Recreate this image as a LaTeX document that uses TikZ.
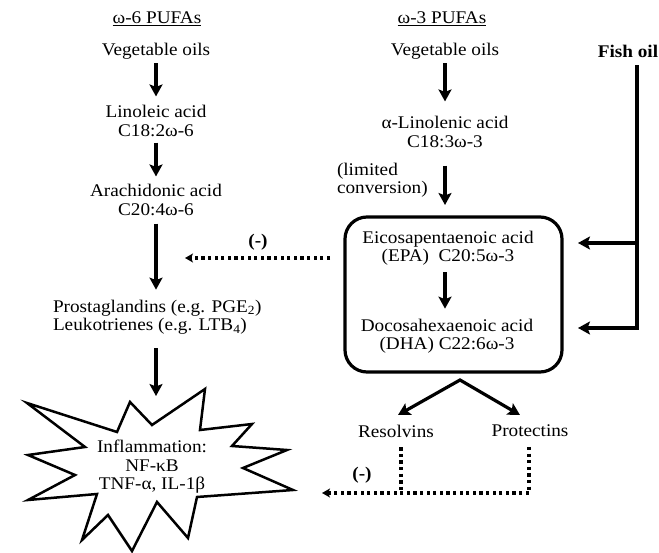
\documentclass[tikz,border=0pt]{standalone}
\usepackage{fontspec}
\setmainfont[FakeStretch=1.08]{Liberation Serif}
\usetikzlibrary{arrows.meta,calc}
\begin{document}
\begin{tikzpicture}[x=1pt,y=-1pt,
  txt/.style={inner sep=0pt, outer sep=0pt, font=\fontsize{17.8}{18.5}\selectfont, align=center},
  arr/.style={line width=3.2pt, -{Stealth[length=12pt,width=13pt,inset=2.5pt]}},
  arrboth/.style={line width=3.2pt, {Stealth[length=12pt,width=13pt,inset=2.5pt]}-{Stealth[length=12pt,width=13pt,inset=2.5pt]}, line join=miter},
  dotline/.style={line width=3.4pt, dash pattern=on 3.3pt off 3.3pt},
  dotarr/.style={dotline, -{Stealth[length=8pt,width=9pt,inset=2pt]}},
  starline/.style={line width=2.5pt, line join=miter, miter limit=20, fill=white},
  boxstyle/.style={draw, line width=3.2pt, rounded corners=22pt, minimum width=217pt, minimum height=155pt, outer sep=0pt, inner sep=0pt},
  neg/.style={txt, font=\fontsize{17.8}{18.5}\selectfont\bfseries}
]
\useasboundingbox (0,0) rectangle (659,553);

% left column
\node[txt] (t6) at (157,19) {\underline{ω-6 PUFAs}};
\node[txt] (v6) at (156,51) {Vegetable oils};
\node[txt] (la) at (156,121) {Linoleic acid\\C18:2ω-6};
\node[txt] (aa) at (156,200) {Arachidonic acid\\C20:4ω-6};
\node[txt, align=left, anchor=west] (pg) at (53,317) {Prostaglandins (e.g. PGE\textsubscript{2})\\Leukotrienes (e.g. LTB\textsubscript{4})};

% star
\draw[starline] (27,403) -- (117,432) -- (130,402) -- (152,425) -- (205,389) -- (200,430)
  -- (252,424) -- (232,446) -- (287,450) -- (243,468) -- (293,490) -- (197,497)
  -- (188,538) -- (157,502) -- (132,551) -- (108,515) -- (82,540) -- (97,494)
  -- (28,500) -- (75,475) -- (28,455) -- (85,447) -- cycle;
\node[txt] (inf) at (152,467) {Inflammation:\\NF-κB\\TNF-α, IL-1β};

% right column
\node[txt] (t3) at (442,19) {\underline{ω-3 PUFAs}};
\node[txt] (v3) at (445,51) {Vegetable oils};
\node[txt] (fo) at (628,51) {\textbf{Fish oil}};
\node[txt] (ala) at (445,132) {α-Linolenic acid\\C18:3ω-3};
\node[txt, align=left, anchor=west] (lim) at (337,180) {(limited\\conversion)};
\node[boxstyle] (box) at (453.5,294.5) {};
\node[txt] (epa) at (448,248) {Eicosapentaenoic acid\\(EPA)\ \ C20:5ω-3};
\node[txt] (dha) at (447,336) {Docosahexaenoic acid\\(DHA) C22:6ω-3};
\node[txt] (res) at (396,431) {Resolvins};
\node[txt] (pro) at (530,431) {Protectins};
\node[neg] (n1) at (258,242) {(-)};
\node[neg] (n2) at (362,475) {(-)};

% left arrows
\draw[arr, shorten <=4pt, shorten >=9pt] (v6) -- (la);
\draw[arr, shorten <=6pt, shorten >=8pt] (la) -- (aa);
\draw[arr, shorten <=8pt, shorten >=10pt] (aa.south) -- (aa.south |- pg.north);
\coordinate (startop) at (156,396);
\draw[arr, shorten <=14pt] (pg.south -| aa.south) -- (startop);

% right arrows
\draw[arr, shorten <=4pt, shorten >=15pt] (v3) -- (ala);
\draw[arr, shorten <=18pt, shorten >=12pt] (ala.south) -- (ala.south |- box.north);
\draw[arr, shorten <=7pt, shorten >=10pt] (epa.south -| ala.south) -- (dha.north -| ala.south);

% fish oil
\coordinate (fj1) at (637,243);
\coordinate (fj2) at (637,328);
\coordinate (fstart) at ($(fo.south -| fj1)+(0,8)$);
\draw[arr, shorten >=16pt, line join=miter] (fstart) -- (fj2) -- (fj2 -| box.east);
\draw[arr, shorten >=16pt] (fj1) -- (fj1 -| box.east);

% inhibition from EPA/DHA
\coordinate (d1s) at (330,258);
\coordinate (d1e) at (185,258);
\draw[dotarr] (d1s) -- (d1e);

% split to resolvins / protectins
\coordinate (apex) at (460,380);
\coordinate (resTip) at (398,415);
\coordinate (proTip) at (520,415);
\draw[arrboth] (resTip) -- (apex) -- (proTip);

% dotted inhibition to inflammation
\coordinate (starR) at (322,493);
\draw[dotarr] ($(pro.south)+(-1,10)$) |- (starR);
\draw[dotline] ($(res.south)+(5,10)$) coordinate (rd) -- (rd |- starR);
\end{tikzpicture}
\end{document}
